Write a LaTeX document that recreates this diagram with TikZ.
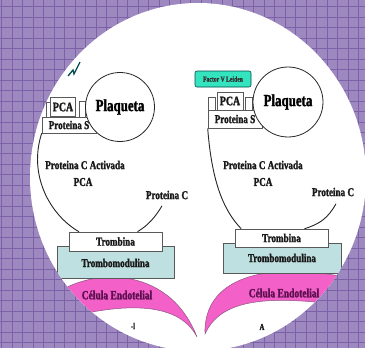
\documentclass[tikz,border=0pt]{standalone}
\usepackage{fontspec}
\setmainfont{Liberation Serif}[FakeStretch=0.76, FakeBold=1.6]
\usetikzlibrary{calc}
\definecolor{bgpurple}{RGB}{157,137,192}
\definecolor{gridpurple}{RGB}{124,96,168}
\definecolor{tmblue}{RGB}{190,224,224}
\definecolor{cellpink}{RGB}{242,96,200}
\definecolor{cellink}{RGB}{92,16,80}
\definecolor{fvlteal}{RGB}{52,228,190}

\begin{document}
\begin{tikzpicture}[x=1pt, y=-1pt,
    box/.style={draw=black!65, fill=white, line width=0.6pt, inner sep=0pt},
    txt/.style={font=\fontsize{12}{12}\selectfont\bfseries, text=black!90},
    link/.style={line width=0.9pt, black!85},
    cell/.style={fill=cellpink, draw=cellink!70, line width=0.5pt}]
    \useasboundingbox (0,0) rectangle (365,348);

    % Background grid
    \fill[bgpurple] (0,0) rectangle (365,348);
    \foreach \k in {0,...,34} {
        \draw[gridpurple, line width=0.9pt] (1.7+10.5*\k,0) -- ++(0,348);
        \draw[gridpurple, line width=0.9pt] (0,6.7+10.5*\k) -- ++(365,0);
    }

    % White disc
    \fill[white] (198,177) ellipse [x radius=168pt, y radius=174pt];

    \begin{scope}
        \clip (198,177) ellipse [x radius=168pt, y radius=174pt];

        % Endothelial cells
        \draw[cell] (50,298) .. controls (85,268) and (168,262) .. (197,337)
            .. controls (178,300) and (120,302) .. (50,322) -- cycle;
        \node[txt, text=cellink, font=\fontsize{12.5}{12}\selectfont\bfseries] (celL) at (117,295) {Célula Endotelial};
        \draw[cell] (205,334) .. controls (203,278) and (265,260) .. (350,278)
            -- (350,306) .. controls (275,296) and (222,296) .. (205,334) -- cycle;
        \node[txt, text=cellink, font=\fontsize{12.5}{12}\selectfont\bfseries] (celR) at (284,293) {Célula Endotelial};

        % Left panel
        \draw[teal!60!black, line width=1.3pt] (68,76) -- (73,70) -- (74,74) -- (80,62);
        \node[box, minimum width=4pt, minimum height=15pt] (tinyLa) at (48,109.5) {};
        \node[box, minimum width=6pt, minimum height=16pt] (tinyLb) at (82,109) {};
        \node[box, minimum width=25pt, minimum height=19pt, txt, font=\fontsize{13}{12}\selectfont\bfseries] (pcaL) at (63,107) {PCA};
        \node[box, minimum width=54pt, minimum height=16pt, txt] (protSL) at (69,125) {Proteina S};
        \node[draw=black!85, fill=white, circle, line width=0.8pt, minimum size=69pt, inner sep=0pt,
            font=\fontsize{17}{16}\selectfont\bfseries] (plaqL) at (120,107) {Plaqueta};
        \node[txt] (pcaTxtL) at (85,165) {Proteina C Activada};
        \node[txt] at (83,182) {PCA};
        \node[txt] (protCL) at (167,195) {Proteina C};
        \node[box, fill=tmblue, minimum width=117pt, minimum height=32pt] (tmL) at (115.5,262) {};
        \node[txt] at (115.5,263) {Trombomodulina};
        \node[box, minimum width=93pt, minimum height=19pt, txt] (tromL) at (115.5,241.5) {Trombina};
        \draw[link] (protSL.south west) .. controls (28,175) and (50,215) .. (tromL.165);
        \draw[link] ($(protCL.south)+(-5,3)$) .. controls (155,218) and (147,226) .. (tromL.24);
        \node[txt, font=\fontsize{9}{8}\selectfont\bfseries] (capL) at (133,326) {-l};

        % Right panel
        \node[draw=teal!60!black, fill=fvlteal, rounded corners=2pt, line width=0.6pt,
            minimum width=56pt, minimum height=16pt, inner sep=0pt,
            font=\fontsize{7.5}{7}\selectfont\bfseries, text=black!80] (fvl) at (223,79) {Factor V Leiden};
        \node[box, minimum width=7pt, minimum height=13pt] (tinyRa) at (211.5,103.5) {};
        \node[box, minimum width=7pt, minimum height=13pt] (tinyRb) at (248.5,103.5) {};
        \node[box, minimum width=26pt, minimum height=18pt, txt, font=\fontsize{13}{12}\selectfont\bfseries] (pcaR) at (230,101) {PCA};
        \node[box, minimum width=54pt, minimum height=18pt, txt] (protSR) at (235,119) {Proteina S};
        \node[draw=black!85, fill=white, circle, line width=0.8pt, minimum size=70pt, inner sep=0pt,
            font=\fontsize{17}{16}\selectfont\bfseries] (plaqR) at (288,102) {Plaqueta};
        \node[txt] (pcaTxtR) at (263,165) {Proteina C Activada};
        \node[txt] at (263,182) {PCA};
        \node[txt] (protCR) at (333,192) {Proteina C};
        \node[box, fill=tmblue, minimum width=118pt, minimum height=30pt] (tmR) at (282,258) {};
        \node[txt] at (282,258) {Trombomodulina};
        \node[box, minimum width=93pt, minimum height=18pt, txt] (tromR) at (281.5,238) {Trombina};
        \draw[link] (protSR.south west) .. controls (212,185) and (225,212) .. (tromR.167);
        \draw[link] ($(protCR.south)+(3,4)$) .. controls (328,218) and (320,224) .. (tromR.22);
        \node[txt, font=\fontsize{9}{8}\selectfont\bfseries] (capR) at (262,327) {A};
    \end{scope}
\end{tikzpicture}
\end{document}
